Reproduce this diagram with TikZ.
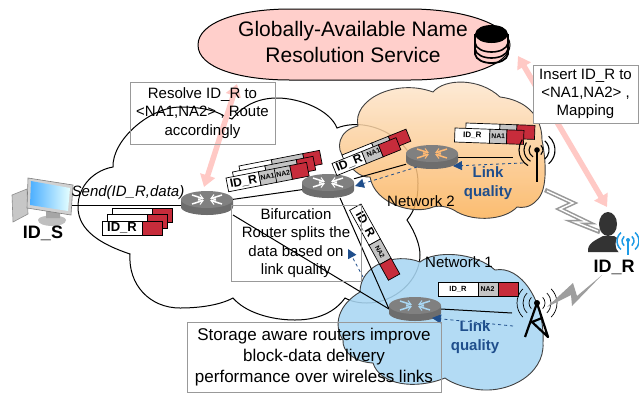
\documentclass[tikz,border=0pt]{standalone}
\usepackage{fontspec}
\setmainfont{Liberation Sans}
\usetikzlibrary{arrows.meta,shapes.geometric}
\definecolor{pinkA}{HTML}{FFC9C5}
\definecolor{ellipseF}{HTML}{FFCFCB}
\definecolor{linkB}{HTML}{1F4E8C}
\definecolor{redP}{HTML}{C72C3B}
\definecolor{grayP}{HTML}{C4C4C4}
\definecolor{cloudB}{HTML}{A9D7F3}
\definecolor{wifiB}{HTML}{1E9BE6}
\definecolor{routerG}{HTML}{808080}
\definecolor{orangeT}{HTML}{FDE8D2}
\definecolor{orangeL}{HTML}{FBB055}
\newcounter{pkc}
\tikzset{
  x=1pt,y=-1pt,
  labelbox/.style={draw=black!40,line width=1pt,align=center,inner sep=0pt},
  txt/.style={align=center,inner sep=0pt,text=black},
  cloudline/.style={draw=black,line width=1pt},
  link/.style={draw=black,line width=1pt},
  quality/.style={draw=linkB,line width=.8pt,dashed,-{Triangle[length=9pt,width=9pt]}},
  lq/.style={align=center,inner sep=0pt,text=linkB,font=\fontsize{15}{18.6}\selectfont\bfseries},
  resolve/.style={draw=pinkA,line width=5.5pt,{Triangle[length=12pt,width=15pt]}-{Triangle[length=12pt,width=15pt]}},
  routernode/.style={rectangle,minimum width=52pt,minimum height=24pt,inner sep=0pt,outer sep=0pt},
  pbox/.style={draw=black,line width=.7pt},
}
\newcommand{\routerbox}[4]{%
  \begin{scope}[shift={(#2,#3)}]
    \fill[routerG!85!black] (-26,-3) -- (-26,4) arc[x radius=26,y radius=8,start angle=180,end angle=0] -- (26,-3) -- cycle;
    \fill[routerG] (0,-3.5) ellipse[x radius=26,y radius=8.5];
    \draw[#4,line width=1.5pt] (-15,-8) -- (-4,-4.5) (15,-8) -- (4,-4.5) (-15,1) -- (-4,-2.5) (15,1) -- (4,-2.5);
    \draw[#4,line width=1pt] (-7,-8.5) -- (-4,-4.5) -- (-9,-4) (7,-8.5) -- (4,-4.5) -- (9,-4) (-7,1.5) -- (-4,-2.5) -- (-9,-3) (7,1.5) -- (4,-2.5) -- (9,-3);
  \end{scope}}
\newcommand{\pkt}[9]{%
  \stepcounter{pkc}%
  \begin{scope}[shift={(#1,#2)},rotate=#3]
    \filldraw[pbox,fill=white] (0,0) rectangle (#5,#4);
    \filldraw[pbox,fill=grayP] (#5,0) rectangle ({#5+#6},#4);
    \filldraw[pbox,fill=redP] ({#5+#6},0) rectangle ({#5+#6+#7},#4);
    \node[transform shape,inner sep=0pt,font=\fontsize{#9}{#9}\selectfont\bfseries] (pid\arabic{pkc}) at ({#5/2},{#4/2}) {#8};
  \end{scope}}
\newcommand{\galabel}[5]{%
  \stepcounter{pkc}%
  \begin{scope}[shift={(#1,#2)},rotate=#3]
    \node[transform shape,inner sep=0pt,font=\fontsize{#5}{#5}\selectfont\bfseries] (pna\arabic{pkc}) at (0,0) {#4};
  \end{scope}}
\begin{document}
\begin{tikzpicture}
\useasboundingbox (0,0) rectangle (639,392);
\fill[white] (0,0) rectangle (639,392);

% white cloud
\path[cloudline,fill=white] (130,254) .. controls (100,244) and (78,230) .. (78,207)
 .. controls (78,185) and (95,170) .. (113,167)
 .. controls (112,140) and (150,107) .. (180,107)
 .. controls (200,107) and (215,110) .. (224,116) -- (232,119)
 .. controls (245,103) and (262,98) .. (277,98)
 .. controls (300,98) and (330,110) .. (337,128)
 .. controls (370,115) and (418,140) .. (418,183)
 .. controls (418,200) and (415,210) .. (407,220)
 .. controls (415,232) and (420,245) .. (420,255)
 .. controls (420,280) and (395,303) .. (367,303)
 .. controls (358,303) and (350,301) .. (345,298)
 .. controls (335,312) and (318,320) .. (295,320)
 .. controls (270,320) and (245,312) .. (233,298)
 .. controls (220,305) and (200,308) .. (180,308)
 .. controls (150,308) and (128,285) .. (130,254) -- cycle;

% orange cloud
\path[draw=black!75,line width=.9pt,top color=orangeT,bottom color=orangeL,fill opacity=.85]
 (345,158) .. controls (335,150) and (338,130) .. (358,126)
 .. controls (352,100) and (395,78) .. (433,92)
 .. controls (445,78) and (480,78) .. (500,97)
 .. controls (525,100) and (542,115) .. (542,140)
 .. controls (546,160) and (548,190) .. (537,200)
 .. controls (530,208) and (522,208) .. (517,207)
 .. controls (505,220) and (475,222) .. (457,212)
 .. controls (450,207) and (440,205) .. (433,207)
 .. controls (415,215) and (375,205) .. (370,177)
 .. controls (360,178) and (350,168) .. (345,158) -- cycle;

% blue cloud
\path[draw=black!75,line width=.9pt,fill=cloudB,fill opacity=.88]
 (343,340) .. controls (333,325) and (338,305) .. (360,292)
 .. controls (360,265) and (395,252) .. (420,262)
 .. controls (435,250) and (475,252) .. (495,270)
 .. controls (520,265) and (545,300) .. (543,343)
 .. controls (545,375) and (505,397) .. (470,388)
 .. controls (460,386) and (450,382) .. (445,378)
 .. controls (415,390) and (380,385) .. (373,363)
 .. controls (355,362) and (342,352) .. (343,340) -- cycle;

% name resolution service
\path[draw=black,line width=1pt,fill=ellipseF] (198,45)
 .. controls (198,22) and (240,9) .. (290,9) -- (410,9)
 .. controls (465,9) and (510,25) .. (510,45)
 .. controls (510,65) and (465,80) .. (410,80) -- (290,80)
 .. controls (240,80) and (198,68) .. (198,45) -- cycle;

% database icon
\draw[black,line width=1.8pt] (475,34) -- (475,54) .. controls (477,66) and (506,66) .. (508,54) -- (508,34);
\draw[black,line width=1.6pt] (475,43) .. controls (477,55) and (506,55) .. (508,43);
\draw[black,line width=1.6pt] (475,49) .. controls (477,61) and (506,61) .. (508,49);
\fill[black] (475,34) .. controls (476,22) and (507,22) .. (508,34) .. controls (507,46) and (476,46) .. (475,34) -- cycle;

% named anchors
\coordinate (c1) at (237,84);
\coordinate (c2) at (204,187);
\coordinate (c3) at (518,56);
\coordinate (c4) at (607,207);
\coordinate (ant) at (513,157);
\coordinate (tow) at (512,313);
\coordinate (q1) at (523,163);
\coordinate (q1e) at (453,166);
\coordinate (q2) at (417,167);
\coordinate (q2e) at (355,186);
\coordinate (q3) at (363,277);
\coordinate (q3e) at (348,249);
\coordinate (q4) at (513,326);
\coordinate (q4e) at (432,318);

% resolution arrows
\draw[resolve] (c2) -- (c1);
\draw[resolve] (c3) -- (c4);

% routers' named places
\path (207,203) node[routernode] (r1) {} (328,186) node[routernode] (r2) {} (432,157) node[routernode] (r3) {} (415,309) node[routernode] (r4) {};
\node[inner sep=0pt,minimum width=44pt,minimum height=30pt] (pc) at (50,205) {};

% connectors
\draw[link] (pc.east) -- (r1.west |- pc.east);
\draw[link] (r1) -- (r2);
\draw[link] (r2) -- (r3);
\draw[link] (r3.east) -- (ant);
\draw[link] (r1.south east) -- (r4.west);
\draw[link] ([xshift=12pt]r2.south) -- (r4.west);
\draw[link] (r4.east) -- (tow);

% routers
\routerbox{r1}{207}{203}{white}
\routerbox{r2}{328}{186}{white}
\routerbox{r3}{432}{157}{orange!55!white}
\routerbox{r4}{415}{309}{cloudB}

% dashed quality arrows
\draw[quality] (q1) -- (q1e);
\draw[quality] (q2) -- (q2e);
\draw[quality] (q3) -- (q3e);
\draw[quality] (q4) -- (q4e);

% packets at sender
\pkt{112}{208}{0}{14}{40}{0}{20}{}{9}
\pkt{107}{214}{0}{14}{40}{0}{20}{}{9}
\pkt{102}{221}{0}{14}{40}{0}{20}{ID\_R}{13}

% packets near bifurcation router
\pkt{239}{166}{11}{14}{33}{32}{17}{}{9}
\pkt{232.5}{172}{11}{14}{33}{32}{17}{}{9}
\pkt{226}{178}{11}{14}{33}{32}{17}{ID\_R}{12}
\begin{scope}[shift={(226,178)},rotate=11]
  \draw[pbox] (49,0) -- (49,14);
\end{scope}
\galabel{267.5}{177}{11}{NA1}{7}
\galabel{283.2}{174}{11}{NA2}{7}

% packets on way to network 2
\pkt{342}{155}{22}{13}{32}{18}{19}{}{9}
\pkt{332}{163.5}{22}{13}{32}{18}{19}{ID\_R}{12}
\galabel{373.5}{152.5}{22}{NA1}{7}

% packets in network 2
\pkt{466}{123}{-2}{14}{34}{17}{18}{}{8}
\pkt{455}{128}{-2}{14}{35}{17}{17}{ID\_R}{8}
\galabel{498.3}{136.5}{-2}{NA1}{6.8}

% packet on way to network 1
\pkt{361}{204}{-61}{13}{40}{22}{18}{ID\_R}{12}
\galabel{380}{252}{-61}{NA2}{6.5}

% packet in network 1
\pkt{438}{282}{0}{14}{40}{20}{20}{ID\_R}{7.5}
\galabel{487.5}{289.5}{0}{NA2}{7}

% orange antenna
\coordinate (aw2) at (537,150);
\draw[black,line width=1.4pt] (aw2) -- (537,182);
\fill[black] (aw2) circle[radius=2.8];
\foreach \r in {6,12,18}{
  \draw[black,line width=1.1pt] (537,150) ++(-50:\r) arc[radius=\r,start angle=-50,end angle=50];
}
\foreach \r in {8,13,18}{
  \draw[black,line width=1.1pt] (537,150) ++(120:\r) arc[radius=\r,start angle=120,end angle=215];
}

% tower
\draw[black,line width=2.2pt,line join=round] (525,337) -- (537,303) -- (548,337) -- (532,322) -- (542,318);
\fill[black] (537,303) circle[radius=3];
\foreach \r in {8,14,20}{
  \draw[black,line width=.7pt] (537,303) ++(-45:\r) arc[radius=\r,start angle=-45,end angle=45];
  \draw[black,line width=.7pt] (537,303) ++(135:\r) arc[radius=\r,start angle=135,end angle=225];
}

% lightning bolts
\draw[black!40,line width=4.5pt,line join=miter] (545,190) -- (573,203) -- (560,209) -- (587,222) -- (575,222) -- (600,232);
\draw[white,line width=1.4pt,line join=miter] (547,191) -- (573,203) -- (560,209) -- (587,222) -- (575,222) -- (598,231);
\fill[black!38] (602,275) -- (577,296) -- (573,283) -- (547,307) -- (571,295) -- (572,306) -- cycle;

% person
\fill[black!80] (608,224) ellipse[x radius=9,y radius=12];
\fill[black!80] (588,252) .. controls (587,243) and (596,240) .. (603,236) -- (614,236) .. controls (620,240) and (628,243) .. (629,252) -- cycle;
\fill[white] (628,244) circle[radius=12.5];
\draw[wifiB,line width=1.4pt] (628,240) -- (628,255);
\fill[wifiB] (628,240) circle[radius=2];
\foreach \r in {6,11}{
  \draw[wifiB,line width=1.5pt] (628,241) ++(-50:\r) arc[radius=\r,start angle=-50,end angle=50];
  \draw[wifiB,line width=1.5pt] (628,241) ++(130:\r) arc[radius=\r,start angle=130,end angle=230];
}

% computer
\fill[black!22] (12,195) -- (27,189) -- (28,214) -- (13,222) -- cycle;
\draw[black!45,line width=.6pt] (12,195) -- (27,189) -- (28,214) -- (13,222) -- cycle;
\fill[black!25] (38,220) .. controls (38,214) and (66,214) .. (66,220) .. controls (66,228) and (38,228) .. (38,220) -- cycle;
\fill[black!35] (46,210) -- (60,212) -- (60,218) -- (46,218) -- cycle;
\fill[black!18] (28,178) -- (73,185) -- (71,215) -- (27,208) -- cycle;
\draw[black!50,line width=.6pt] (28,178) -- (73,185) -- (71,215) -- (27,208) -- cycle;
\shade[left color=blue!45!cyan!70!white,right color=cyan!10!white] (31,181) -- (70,188) -- (68,211) -- (30,205) -- cycle;

% texts
\node[txt,font=\fontsize{21}{25.6}\selectfont] (title) at (353,42) {Globally-Available Name\\Resolution Service};
\node[labelbox,minimum width=145pt,minimum height=62pt,font=\fontsize{15}{18.3}\selectfont] (resbox) at (202.5,113) {Resolve ID\_R to\\<NA1,NA2> , Route\\accordingly};
\node[labelbox,fill=white,minimum width=105pt,minimum height=58pt,font=\fontsize{15}{18.3}\selectfont] (insbox) at (585.5,94) {Insert ID\_R to\\<NA1,NA2> ,\\Mapping};
\node[labelbox,minimum width=130pt,minimum height=76pt,font=\fontsize{15}{18.3}\selectfont] (bifbox) at (296,243) {Bifurcation\\Router splits the\\data based on\\link quality};
\node[labelbox,minimum width=254pt,minimum height=70pt,font=\fontsize{17}{21}\selectfont] (stobox) at (314,357) {Storage aware routers improve\\block-data delivery\\performance over wireless links};
\node[txt,font=\fontsize{15}{18}\selectfont\itshape] (send) at (128,193) {Send(ID\_R,data)};
\node[txt,font=\fontsize{18}{20}\selectfont\bfseries] (ids) at (43,233) {ID\_S};
\node[txt,font=\fontsize{18}{20}\selectfont\bfseries] (idr) at (614,267) {ID\_R};
\node[txt,font=\fontsize{15}{18}\selectfont] (net2) at (421,201) {Network 2};
\node[txt,font=\fontsize{15}{18}\selectfont] (net1) at (459,262) {Network 1};
\node[lq] (lq2) at (488,183) {Link\\quality};
\node[lq] (lq1) at (475,337) {Link\\quality};
\end{tikzpicture}
\end{document}
